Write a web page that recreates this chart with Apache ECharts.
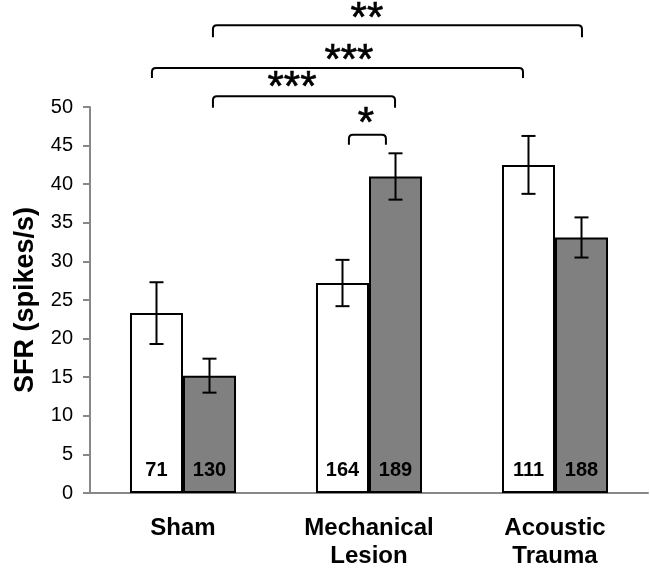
<!DOCTYPE html>
<html>
<head>
<meta charset="utf-8">
<script src="https://cdn.jsdelivr.net/npm/echarts@6/dist/echarts.min.js"></script>
<style>html,body{margin:0;padding:0;background:#fff;}#c{width:650px;height:575px;}</style>
</head>
<body>
<div id="c"></div>
<script>
const categories = ['Sham', 'Mechanical\nLesion', 'Acoustic\nTrauma'];
const whiteValues = [23.3, 27.2, 42.5];
const grayValues = [15.2, 41.0, 33.1];
const whiteErr = [4.0, 3.0, 3.75];
const grayErr = [2.2, 3.0, 2.6];
const whiteN = [71, 164, 111];
const grayN = [130, 189, 188];
// significance brackets: [leftPos, rightPos, lineLevel, legLength, starPos, starLevel] (category-axis positions, SFR values)
const bracketLines = [
  [0.892, 1.091, 46.4, 1.3, 0.984, 48.4],
  [0.161, 1.140, 51.4, 1.5, 0.586, 53.0],
  [-0.167, 1.828, 55.05, 1.3, 0.892, 56.5],
  [0.161, 2.145, 60.6, 1.55, 0.989, 62.05]
];
const bracketLabels = ['*', '***', '***', '**'];

const BAR_FRAC = 0.285;
const FONT = 'Liberation Sans, Arial, sans-serif';

function errSeries(values, errs, side) {
  return {
    type: 'custom',
    z: 5,
    data: values.map((v, i) => [i, v, errs[i]]),
    renderItem: function (params, api) {
      const band = api.size([1, 0])[0];
      const off = side * band * BAR_FRAC / 2;
      const top = api.coord([api.value(0), api.value(1) + api.value(2)]);
      const bot = api.coord([api.value(0), api.value(1) - api.value(2)]);
      const x = top[0] + off;
      const cap = 7;
      const st = { stroke: '#000', lineWidth: 2 };
      return {
        type: 'group',
        children: [
          { type: 'line', shape: { x1: x, y1: top[1], x2: x, y2: bot[1] }, style: st },
          { type: 'line', shape: { x1: x - cap, y1: top[1], x2: x + cap, y2: top[1] }, style: st },
          { type: 'line', shape: { x1: x - cap, y1: bot[1], x2: x + cap, y2: bot[1] }, style: st }
        ]
      };
    }
  };
}

const chart = echarts.init(document.getElementById('c'));
chart.setOption({
  animation: false,
  backgroundColor: '#fff',
  grid: { left: 90, right: 2, top: 107, bottom: 82 },
  xAxis: {
    type: 'category',
    data: categories,
    axisLine: { lineStyle: { color: '#888', width: 2 } },
    axisTick: { show: false },
    axisLabel: { color: '#000', fontFamily: FONT, fontWeight: 'bold', fontSize: 24, lineHeight: 28, margin: 21, interval: 0 }
  },
  yAxis: {
    type: 'value',
    min: 0, max: 50, interval: 5,
    name: 'SFR (spikes/s)',
    nameLocation: 'middle',
    nameGap: 51,
    nameTextStyle: { color: '#000', fontFamily: FONT, fontWeight: 'bold', fontSize: 27 },
    axisLine: { show: true, lineStyle: { color: '#888', width: 2 } },
    axisTick: { show: true, length: 7, lineStyle: { color: '#888', width: 2 } },
    axisLabel: { color: '#000', fontFamily: FONT, fontSize: 20, margin: 17 },
    splitLine: { show: false }
  },
  series: [
    {
      type: 'bar', data: whiteValues, barWidth: (BAR_FRAC * 100) + '%', barGap: '0%',
      itemStyle: { color: '#fff', borderColor: '#000', borderWidth: 2 },
      label: { show: true, position: 'insideBottom', distance: 13, formatter: p => whiteN[p.dataIndex], color: '#000', fontFamily: FONT, fontWeight: 'bold', fontSize: 20 }
    },
    {
      type: 'bar', data: grayValues, barWidth: (BAR_FRAC * 100) + '%', barGap: '0%',
      itemStyle: { color: '#808080', borderColor: '#000', borderWidth: 2 },
      label: { show: true, position: 'insideBottom', distance: 13, formatter: p => grayN[p.dataIndex], color: '#000', fontFamily: FONT, fontWeight: 'bold', fontSize: 20 }
    },
    errSeries(whiteValues, whiteErr, -1),
    errSeries(grayValues, grayErr, 1),
    {
      type: 'custom',
      z: 6,
      data: bracketLines.map((b, i) => [0, b[2]]),
      renderItem: function (params, api) {
        const b = bracketLines[params.dataIndex];
        const band = api.size([1, 0])[0];
        const origin = api.coord([0, b[2]]);
        const x1 = origin[0] + b[0] * band;
        const x2 = origin[0] + b[1] * band;
        const y = origin[1];
        const legEnd = api.coord([0, b[2] - b[3]])[1];
        const labX = origin[0] + b[4] * band;
        const labY = api.coord([0, b[5]])[1];
        const r = 4;
        const st = { stroke: '#000', lineWidth: 2, fill: null };
        return {
          type: 'group',
          children: [
            { type: 'path', shape: { pathData: `M${x1} ${legEnd} L${x1} ${y + r} Q${x1} ${y} ${x1 + r} ${y} L${x2 - r} ${y} Q${x2} ${y} ${x2} ${y + r} L${x2} ${legEnd}` }, style: st },
            { type: 'text', style: { text: bracketLabels[params.dataIndex], x: labX, y: labY + 5, fill: '#000', font: '42px ' + FONT, align: 'center', verticalAlign: 'middle', stroke: '#000', lineWidth: 0.6 } }
          ]
        };
      }
    }
  ]
});
</script>
</body>
</html>
